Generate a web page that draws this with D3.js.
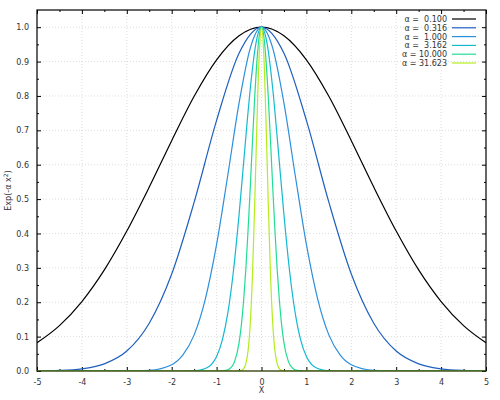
<!DOCTYPE html>
<html><head><meta charset="utf-8">
<script src="https://cdn.jsdelivr.net/npm/d3@7"></script>
<style>body{margin:0;background:#fff}svg{display:block}text{font-family:"DejaVu Sans",sans-serif}</style>
</head><body><svg id="c" width="500" height="400"></svg>
<script>
const alphaLabels = ["α =  0.100","α =  0.316","α =  1.000","α =  3.162","α = 10.000","α = 31.623"];
const colors = ["#000000","#1f5fbf","#2c8fdc","#14b9d2","#22dc95","#b4ec1e"];
const xTicks = [-5,-4,-3,-2,-1,0,1,2,3,4,5];
const yTicks = [0,0.1,0.2,0.3,0.4,0.5,0.6,0.7,0.8,0.9,1.0];

const x01 = [-5,-4.5,-4,-3.5,-3,-2.5,-2,-1.5,-1,-0.5,0,0.5,1,1.5,2,2.5,3,3.5,4,4.5,5];
const y01 = [0.082,0.132,0.202,0.294,0.407,0.535,0.670,0.799,0.905,0.975,1,0.975,0.905,0.799,0.670,0.535,0.407,0.294,0.202,0.132,0.082];
const x03 = [-5,-4.5,-4,-3.5,-3,-2.5,-2,-1.5,-1,-0.5,0,0.5,1,1.5,2,2.5,3,3.5,4,4.5,5];
const y03 = [0.0004,0.0017,0.0064,0.0208,0.058,0.139,0.282,0.491,0.729,0.924,1,0.924,0.729,0.491,0.282,0.139,0.058,0.0208,0.0064,0.0017,0.0004];
const x1 = [-5,-3,-2.5,-2,-1.75,-1.5,-1.25,-1,-0.75,-0.5,-0.25,0,0.25,0.5,0.75,1,1.25,1.5,1.75,2,2.5,3,5];
const y1 = [0,0.0001,0.0019,0.0183,0.0468,0.105,0.210,0.368,0.570,0.779,0.939,1,0.939,0.779,0.570,0.368,0.210,0.105,0.0468,0.0183,0.0019,0.0001,0];
const x3 = [-5,-2,-1.5,-1.25,-1,-0.875,-0.75,-0.625,-0.5,-0.375,-0.25,-0.125,0,0.125,0.25,0.375,0.5,0.625,0.75,0.875,1,1.25,1.5,2,5];
const y3 = [0,0,0.0008,0.0071,0.0423,0.0888,0.169,0.291,0.454,0.641,0.821,0.952,1,0.952,0.821,0.641,0.454,0.291,0.169,0.0888,0.0423,0.0071,0.0008,0,0];
const x10 = [-5,-1,-0.8,-0.7,-0.6,-0.5,-0.45,-0.4,-0.35,-0.3,-0.25,-0.2,-0.15,-0.1,-0.05,0,0.05,0.1,0.15,0.2,0.25,0.3,0.35,0.4,0.45,0.5,0.6,0.7,0.8,1,5];
const y10 = [0,0,0.0017,0.0074,0.0273,0.082,0.132,0.202,0.294,0.407,0.535,0.670,0.799,0.905,0.975,1,0.975,0.905,0.799,0.670,0.535,0.407,0.294,0.202,0.132,0.082,0.0273,0.0074,0.0017,0,0];
const x31 = [-5,-0.6,-0.5,-0.45,-0.4,-0.35,-0.3,-0.25,-0.2,-0.15,-0.1,-0.05,0,0.05,0.1,0.15,0.2,0.25,0.3,0.35,0.4,0.45,0.5,0.6,5];
const y31 = [0,0,0.0004,0.0017,0.0064,0.0208,0.058,0.139,0.282,0.491,0.729,0.924,1,0.924,0.729,0.491,0.282,0.139,0.058,0.0208,0.0064,0.0017,0.0004,0,0];

const seriesX = [x01,x03,x1,x3,x10,x31];
const seriesY = [y01,y03,y1,y3,y10,y31];

const svg = d3.select("#c");
const L=37, R=486, T=10, B=371;
const x = d3.scaleLinear().domain([-5,5]).range([L,R]);
const y = d3.scaleLinear().domain([0,1.05]).range([B,T]);

// grid
const g = svg.append("g");
g.selectAll(".gx").data(xTicks.slice(1,-1)).enter().append("line")
 .attr("x1",d=>x(d)).attr("x2",d=>x(d)).attr("y1",T).attr("y2",B)
 .attr("stroke","#d4d4d4").attr("stroke-width",0.8).attr("stroke-dasharray","1,2");
g.selectAll(".gy").data(yTicks.slice(1)).enter().append("line")
 .attr("y1",d=>y(d)).attr("y2",d=>y(d)).attr("x1",L).attr("x2",R)
 .attr("stroke","#d4d4d4").attr("stroke-width",0.8).attr("stroke-dasharray","1,2");

// axes with inward ticks
const minorX = d3.range(-4.5,5,1);
const minorY = d3.range(0.05,1.05,0.1);
function addAxis(axis, tr){ const a=svg.append("g").attr("transform",tr).call(axis); a.select(".domain").remove(); a.selectAll("text").attr("font-size",8).attr("fill","#333"); a.selectAll("line").attr("stroke","#000"); return a;}
addAxis(d3.axisBottom(x).tickValues(xTicks).tickFormat(d=>String(d)).tickSizeInner(-4).tickPadding(8), `translate(0,${B})`);
addAxis(d3.axisBottom(x).tickValues(minorX).tickFormat("").tickSizeInner(-2), `translate(0,${B})`);
addAxis(d3.axisTop(x).tickValues(xTicks).tickFormat("").tickSizeInner(-4), `translate(0,${T})`);
addAxis(d3.axisTop(x).tickValues(minorX).tickFormat("").tickSizeInner(-2), `translate(0,${T})`);
addAxis(d3.axisLeft(y).tickValues(yTicks).tickFormat(d3.format(".1f")).tickSizeInner(-4).tickPadding(8), `translate(${L},0)`);
addAxis(d3.axisLeft(y).tickValues(minorY).tickFormat("").tickSizeInner(-2), `translate(${L},0)`);
addAxis(d3.axisRight(y).tickValues(yTicks).tickFormat("").tickSizeInner(-4), `translate(${R},0)`);
addAxis(d3.axisRight(y).tickValues(minorY).tickFormat("").tickSizeInner(-2), `translate(${R},0)`);

// curves
const clip = svg.append("clipPath").attr("id","cp").append("rect").attr("x",L).attr("y",T).attr("width",R-L).attr("height",B-T);
const line = d3.line().curve(d3.curveMonotoneX);
seriesX.forEach((xs,i)=>{
  svg.append("path").attr("clip-path","url(#cp)")
   .attr("d", line(xs.map((v,j)=>[x(v), y(seriesY[i][j])])))
   .attr("fill","none").attr("stroke",colors[i]).attr("stroke-width",1.2);
});

// frame
svg.append("rect").attr("x",L).attr("y",T).attr("width",R-L).attr("height",B-T)
 .attr("fill","none").attr("stroke","#000").attr("stroke-width",1.2);
svg.append("line").attr("x1",L).attr("x2",R).attr("y1",B).attr("y2",B).attr("stroke",colors[5]).attr("stroke-width",0.6).attr("opacity",0.6);

// legend
const lg = svg.append("g");
alphaLabels.forEach((t,i)=>{
  const yy = 19 + i*8.8;
  lg.append("text").attr("x",447).attr("y",yy+3).attr("text-anchor","end").attr("font-size",8).attr("fill","#333")
    .attr("xml:space","preserve").style("white-space","pre").text(t);
  lg.append("line").attr("x1",452).attr("x2",476).attr("y1",yy).attr("y2",yy).attr("stroke",colors[i]).attr("stroke-width",1.2);
});

// axis labels
svg.append("text").attr("x",(L+R)/2).attr("y",393).attr("text-anchor","middle").attr("font-size",8).attr("fill","#333").text("X");
const yl = svg.append("text").attr("transform",`translate(11,${(T+B)/2}) rotate(-90)`).attr("text-anchor","middle").attr("font-size",8).attr("fill","#333");
yl.append("tspan").text("Exp(-α x");
yl.append("tspan").attr("font-size",6).attr("dy",-3).text("2");
yl.append("tspan").attr("dy",3).text(")");
</script></body></html>
